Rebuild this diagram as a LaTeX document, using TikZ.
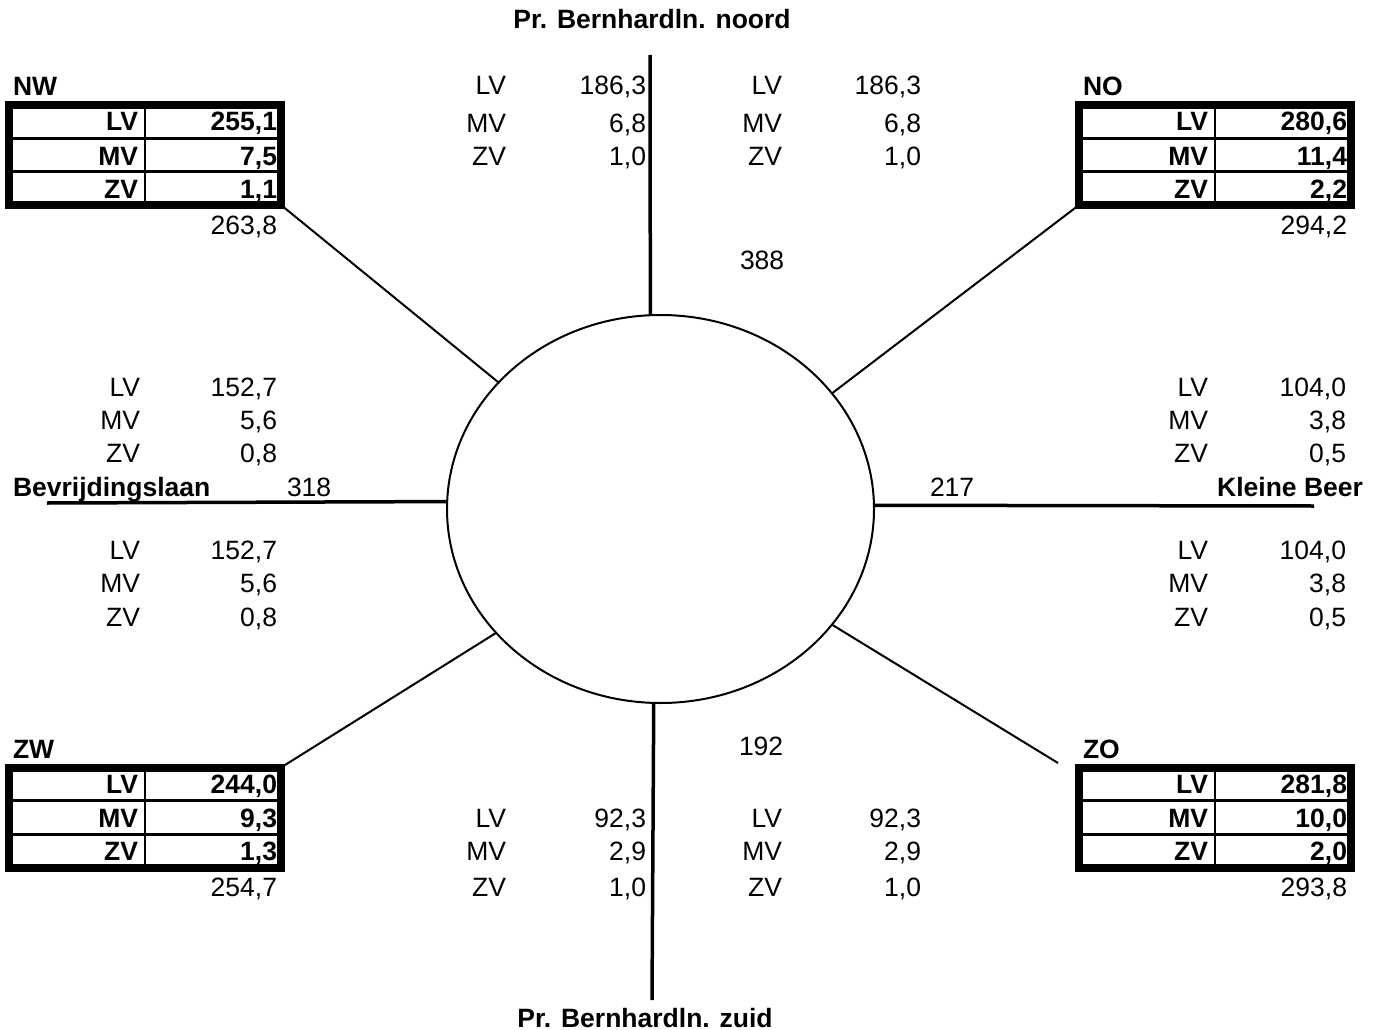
\documentclass[tikz,border=0pt]{standalone}
\usepackage{fontspec}
\setmainfont{Liberation Sans}
\usetikzlibrary{calc, positioning, shapes.geometric}

\begin{document}
\begin{tikzpicture}[x=1pt, y=-1pt,
    tekst/.style={font=\fontsize{26.5}{30}\selectfont, inner sep=0pt, outer sep=0pt},
    vet/.style={tekst, font=\fontsize{26.5}{30}\selectfont\bfseries},
    vak/.style={draw, line width=8pt, minimum width=272pt, minimum height=100pt, inner sep=0pt, outer sep=0pt},
    binnen/.style={line width=2.7pt},
    weg/.style={line width=3.5pt},
    tak/.style={line width=2pt}]
    \useasboundingbox (0,0) rectangle (1373,1030);
    \fill[white] (0,0) rectangle (1373,1030);

    % Rotonde
    \node[draw, ellipse, line width=2pt, minimum width=427pt, minimum height=388pt, inner sep=0pt, outer sep=0pt] (rotonde) at (660.5,509) {};

    % Hoofdwegen
    \coordinate (noord) at (650,55);
    \coordinate (zuid) at (652,1000);
    \coordinate (west) at (47,503);
    \coordinate (oost) at (1314,506);
    \draw[weg] (noord) -- (rotonde.93);
    \draw[weg] (rotonde.268) -- (zuid);
    \draw[weg] (west) -- (rotonde.178);
    \draw[weg] (rotonde.1) -- (oost);

    % Kruispunten met totalen
    \foreach \naam/\px/\py/\kop/\lv/\mv/\zv/\som in {
        nw/145/155/NW/255{,}1/7{,}5/1{,}1/263{,}8,
        no/1215/155/NO/280{,}6/11{,}4/2{,}2/294{,}2,
        zw/145/817.5/ZW/244{,}0/9{,}3/1{,}3/254{,}7,
        zo/1215/817.5/ZO/281{,}8/10{,}0/2{,}0/293{,}8}{
        \node[vak] (\naam) at (\px,\py) {};
        \draw[binnen] (\naam.north) -- (\naam.south);
        \draw[binnen] ($(\naam.north west)!1/3!(\naam.south west)$) -- ($(\naam.north east)!1/3!(\naam.south east)$);
        \draw[binnen] ($(\naam.north west)!2/3!(\naam.south west)$) -- ($(\naam.north east)!2/3!(\naam.south east)$);
        \node[vet, anchor=base west] (\naam-kop) at ($(\naam.north west)+(4,-9)$) {\kop};
        \node[vet, anchor=base east] (\naam-lv) at ($(\naam.north)+(-7,26)$) {LV};
        \node[vet, anchor=base east] (\naam-mv) at ($(\naam.north)+(-7,60)$) {MV};
        \node[vet, anchor=base east] (\naam-zv) at ($(\naam.north)+(-7,93)$) {ZV};
        \node[vet, anchor=base east] (\naam-lvw) at ($(\naam.north east)+(-4,26)$) {\lv};
        \node[vet, anchor=base east] (\naam-mvw) at ($(\naam.north east)+(-4,60)$) {\mv};
        \node[vet, anchor=base east] (\naam-zvw) at ($(\naam.north east)+(-4,93)$) {\zv};
        \node[tekst, anchor=base east] (\naam-som) at ($(\naam.south east)+(-4,29)$) {\som};
    }

    % Takken naar de kruispunten
    \coordinate (zo-eind) at (1058,763);
    \draw[tak] (nw.south east) -- (rotonde.142);
    \draw[tak] (no.south west) -- (rotonde.34);
    \draw[tak] (zw.north east) -- (rotonde.217);
    \draw[tak] (rotonde.326) -- (zo-eind);

    % Intensiteiten per tak
    \foreach \g/\lx/\vx/\ya/\yb/\yc/\lv/\mv/\zv in {
        nl/506/646/95/132/165/186{,}3/6{,}8/1{,}0,
        nr/782/921/95/132/165/186{,}3/6{,}8/1{,}0,
        wb/140/277/396/429/462/152{,}7/5{,}6/0{,}8,
        wo/140/277/559/592/626/152{,}7/5{,}6/0{,}8,
        ob/1208/1346/396/429/462/104{,}0/3{,}8/0{,}5,
        oo/1208/1346/559/592/626/104{,}0/3{,}8/0{,}5,
        zl/506/646/827/860/896/92{,}3/2{,}9/1{,}0,
        zr/782/921/827/860/896/92{,}3/2{,}9/1{,}0}{
        \node[tekst, anchor=base east] (\g-lv) at (\lx,\ya) {LV};
        \node[tekst, anchor=base east] (\g-mv) at (\lx,\yb) {MV};
        \node[tekst, anchor=base east] (\g-zv) at (\lx,\yc) {ZV};
        \node[tekst, anchor=base east] (\g-lvw) at (\vx,\ya) {\lv};
        \node[tekst, anchor=base east] (\g-mvw) at (\vx,\yb) {\mv};
        \node[tekst, anchor=base east] (\g-zvw) at (\vx,\yc) {\zv};
    }

    % Wegnamen en totalen
    \node[vet, anchor=base] (naam-noord) at (652,29) {Pr. Bernhardln. noord};
    \node[vet, anchor=base] (naam-zuid) at (645,1027) {Pr. Bernhardln. zuid};
    \node[vet, anchor=base west] (naam-west) at (13,496) {Bevrijdingslaan};
    \node[vet, anchor=base east] (naam-oost) at (1363,496) {Kleine Beer};
    \node[tekst, anchor=base west] (tot-noord) at (740,269) {388};
    \node[tekst, anchor=base west] (tot-zuid) at (739,755) {192};
    \node[tekst, anchor=base west] (tot-west) at (287,496) {318};
    \node[tekst, anchor=base west] (tot-oost) at (930,496) {217};
\end{tikzpicture}
\end{document}
